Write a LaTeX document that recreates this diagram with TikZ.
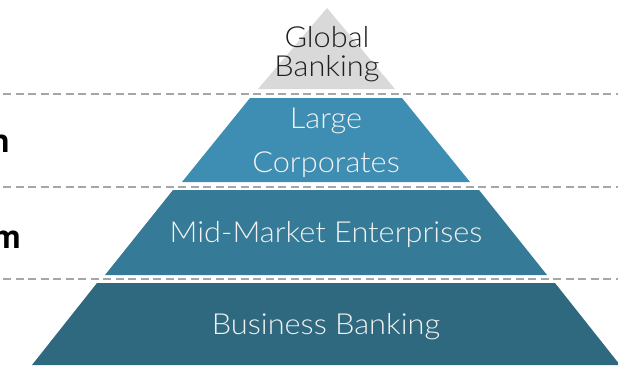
\documentclass[tikz,border=0pt]{standalone}
\usepackage{fontspec}
\setmainfont{TeX Gyre Heros}
\newfontfamily\lightfont{Lato Light}[FakeStretch=1.06]
\definecolor{gbgray}{HTML}{D9D9D9}
\definecolor{lcblue}{HTML}{3D8EB2}
\definecolor{mmblue}{HTML}{357A96}
\definecolor{bbblue}{HTML}{2E6980}
\definecolor{dashgray}{HTML}{A6A6A6}
\definecolor{txtwhite}{HTML}{F2F2F2}
\tikzset{
  dashline/.style={draw=dashgray, line width=2.4pt, dash pattern=on 8pt off 4.5pt},
  tiertext/.style={font=\lightfont\fontsize{29}{31}\selectfont, text=txtwhite, anchor=base, inner sep=0pt},
  toptext/.style={font=\lightfont\fontsize{29}{31}\selectfont, text=black!88, anchor=base, inner sep=0pt},
  sidetext/.style={font=\bfseries\fontsize{32}{34}\selectfont, text=black, anchor=base east, inner sep=0pt}
}
\begin{document}
\begin{tikzpicture}[x=1pt,y=-1pt]
\useasboundingbox (0,0) rectangle (618,365);
% tiers
\fill[gbgray] (258,89) -- (327,8) -- (395,89) -- cycle;
\fill[lcblue] (250,98) -- (402,98) -- (470,182) -- (182,182) -- cycle;
\fill[mmblue] (173,190) -- (479,190) -- (547,275) -- (105,275) -- cycle;
\fill[bbblue] (97,283) -- (555,283) -- (620,365) -- (32,365) -- cycle;
% dashed separators
\coordinate (d1a) at (3,94);  \coordinate (d1b) at (618,94);
\coordinate (d2a) at (3,187); \coordinate (d2b) at (618,187);
\coordinate (d3a) at (3,279); \coordinate (d3b) at (618,279);
\draw[dashline] (d1a) -- (d1b);
\draw[dashline] (d2a) -- (d2b);
\draw[dashline] (d3a) -- (d3b);
% labels
\node[toptext] (g1) at (327,47) {Global};
\node[toptext] (g2) at (327,76) {Banking};
\node[tiertext] (l1) at (326,128) {Large};
\node[tiertext] (l2) at (326,172) {Corporates};
\node[tiertext] (m1) at (326,242) {Mid-Market Enterprises};
\node[tiertext] (b1) at (326,334) {Business Banking};
\node[sidetext] (s1) at (10,152) {n};
\node[sidetext] (s2) at (21,248) {m};
\end{tikzpicture}
\end{document}
